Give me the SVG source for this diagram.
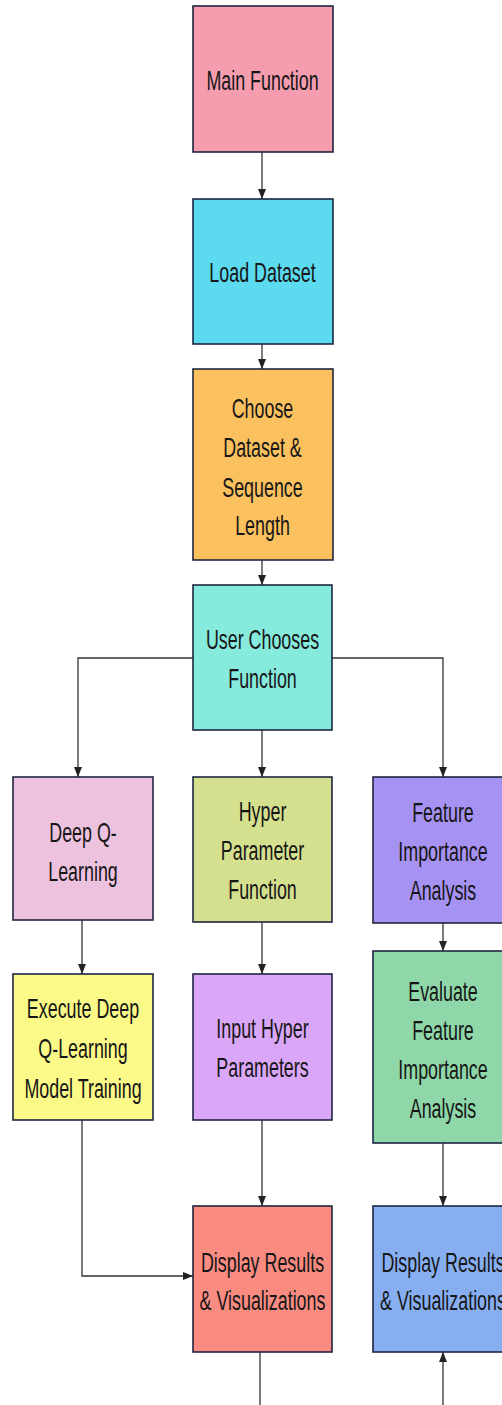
<svg xmlns="http://www.w3.org/2000/svg" width="502" height="1405" viewBox="0 0 502 1405">
<defs>
<marker id="ah" viewBox="0 0 10 10" refX="10" refY="5" markerWidth="10" markerHeight="10" markerUnits="userSpaceOnUse" orient="auto">
<path d="M0,1 L10,5 L0,9 Z" fill="#222"/>
</marker>
<style>
.box{stroke:#1e2640;stroke-width:1.6}
.lbl{font-family:"Liberation Sans",Arial,sans-serif;font-size:27.5px;fill:#161616;text-anchor:middle}
.con{fill:none;stroke:#333;stroke-width:1.3}
.ar{marker-end:url(#ah)}
</style>
</defs>
<rect width="502" height="1405" fill="#ffffff"/>
<g id="connectors">
<path class="con ar" d="M262,152 V199"/>
<path class="con ar" d="M262,344 V369"/>
<path class="con ar" d="M262,560 V585"/>
<path class="con ar" d="M193,658 H78 V777"/>
<path class="con ar" d="M262,730 V777"/>
<path class="con ar" d="M332,658 H443 V777"/>
<path class="con ar" d="M82,920 V974"/>
<path class="con ar" d="M262,922 V974"/>
<path class="con ar" d="M443,923 V951"/>
<path class="con ar" d="M82,1120 V1276 H193"/>
<path class="con ar" d="M262,1120 V1206"/>
<path class="con ar" d="M443,1143 V1206"/>
<path class="con" d="M260,1352 V1405"/>
<path class="con ar" d="M443,1405 V1352"/>
</g>
<g id="main">
<rect class="box" x="193" y="6" width="140" height="146" fill="#F59DAE"/>
<text class="lbl" transform="translate(262.5,90) scale(0.65,1)">Main Function</text>
</g>
<g id="load">
<rect class="box" x="193" y="199" width="140" height="145" fill="#5CDAF0"/>
<text class="lbl" transform="translate(262.5,282) scale(0.65,1)">Load Dataset</text>
</g>
<g id="choose">
<rect class="box" x="193" y="369" width="140" height="191" fill="#FBC15F"/>
<text class="lbl" transform="translate(262.5,418) scale(0.65,1)">Choose</text>
<text class="lbl" transform="translate(262.5,457) scale(0.65,1)">Dataset &amp;</text>
<text class="lbl" transform="translate(262.5,497) scale(0.65,1)">Sequence</text>
<text class="lbl" transform="translate(262.5,535) scale(0.65,1)">Length</text>
</g>
<g id="user">
<rect class="box" x="193" y="585" width="139" height="145" fill="#86EADD"/>
<text class="lbl" transform="translate(262.5,649) scale(0.65,1)">User Chooses</text>
<text class="lbl" transform="translate(262.5,688) scale(0.65,1)">Function</text>
</g>
<g id="deepq">
<rect class="box" x="13" y="777" width="140" height="143" fill="#EDC2DE"/>
<text class="lbl" transform="translate(83,842) scale(0.65,1)">Deep Q-</text>
<text class="lbl" transform="translate(83,881) scale(0.65,1)">Learning</text>
</g>
<g id="hyper">
<rect class="box" x="193" y="777" width="139" height="145" fill="#D5E08F"/>
<text class="lbl" transform="translate(262.5,821) scale(0.65,1)">Hyper</text>
<text class="lbl" transform="translate(262.5,860) scale(0.65,1)">Parameter</text>
<text class="lbl" transform="translate(262.5,899) scale(0.65,1)">Function</text>
</g>
<g id="feature">
<rect class="box" x="373" y="777" width="140" height="146" fill="#A692F3"/>
<text class="lbl" transform="translate(443,822) scale(0.65,1)">Feature</text>
<text class="lbl" transform="translate(443,861) scale(0.65,1)">Importance</text>
<text class="lbl" transform="translate(443,900) scale(0.65,1)">Analysis</text>
</g>
<g id="execute">
<rect class="box" x="13" y="974" width="140" height="146" fill="#FBFA88"/>
<text class="lbl" transform="translate(83,1018) scale(0.65,1)">Execute Deep</text>
<text class="lbl" transform="translate(83,1058) scale(0.65,1)">Q-Learning</text>
<text class="lbl" transform="translate(83,1098) scale(0.65,1)">Model Training</text>
</g>
<g id="input">
<rect class="box" x="193" y="974" width="139" height="146" fill="#DAA7F8"/>
<text class="lbl" transform="translate(262.5,1038) scale(0.65,1)">Input Hyper</text>
<text class="lbl" transform="translate(262.5,1077) scale(0.65,1)">Parameters</text>
</g>
<g id="evaluate">
<rect class="box" x="373" y="951" width="140" height="192" fill="#8FD7A9"/>
<text class="lbl" transform="translate(443,1001) scale(0.65,1)">Evaluate</text>
<text class="lbl" transform="translate(443,1040) scale(0.65,1)">Feature</text>
<text class="lbl" transform="translate(443,1079) scale(0.65,1)">Importance</text>
<text class="lbl" transform="translate(443,1118) scale(0.65,1)">Analysis</text>
</g>
<g id="display1">
<rect class="box" x="193" y="1206" width="139" height="146" fill="#FA8B81"/>
<text class="lbl" transform="translate(262.5,1272) scale(0.65,1)">Display Results</text>
<text class="lbl" transform="translate(262.5,1310) scale(0.65,1)">&amp; Visualizations</text>
</g>
<g id="display2">
<rect class="box" x="373" y="1206" width="140" height="146" fill="#87AEF1"/>
<text class="lbl" transform="translate(443,1272) scale(0.65,1)">Display Results</text>
<text class="lbl" transform="translate(443,1310) scale(0.65,1)">&amp; Visualizations</text>
</g>
</svg>
